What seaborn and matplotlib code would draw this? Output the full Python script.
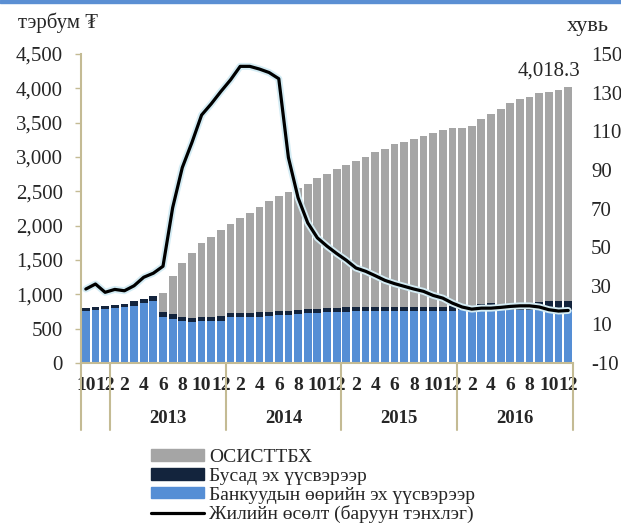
import numpy as np
import pandas as pd
import matplotlib
matplotlib.use("Agg")
import matplotlib.pyplot as plt
import matplotlib.patheffects as pe
from matplotlib.patches import Patch, Rectangle
from matplotlib.lines import Line2D
from matplotlib.ticker import FuncFormatter, MultipleLocator, FixedLocator
import seaborn as sns

# ---------------- data ----------------
bank_own = [759, 770, 789, 799, 813, 832, 871, 905, 672, 639, 605, 595, 605, 605, 610,
            663, 664, 664, 673, 687, 697, 702, 711, 721, 730, 738, 745, 750, 753, 755,
            757, 758, 759, 760, 760, 761, 762, 763, 764, 765, 766, 766, 767, 767, 768,
            768, 768, 769, 769, 770, 770]
other_src = [40, 48, 43, 48, 53, 68, 68, 72, 73, 72, 58, 58, 63, 63, 77,
             68, 67, 67, 63, 55, 55, 58, 59, 59, 60, 62, 63, 62, 62, 61,
             60, 60, 59, 59, 60, 59, 59, 59, 59, 59, 62, 100, 100, 99, 98,
             98, 100, 126, 128, 128, 128]
osis = [0, 0, 0, 0, 0, 0, 0, 0, 281, 557, 797, 952, 1079, 1164, 1246,
        1287, 1384, 1459, 1534, 1618, 1682, 1725, 1774, 1832, 1905, 1954, 2023, 2077, 2128, 2190,
        2257, 2299, 2367, 2404, 2437, 2486, 2533, 2576, 2599, 2598, 2618, 2687, 2753, 2827, 2919,
        2972, 3013, 3030, 3043, 3071, 3120.3]
growth = [28.3, 30.9, 26.6, 28.1, 27.4, 30.0, 34.4, 36.5, 40.1, 70.4, 91.2, 104.2, 118.4, 124.2, 130.6,
          136.6, 143.6, 143.6, 142.2, 140.4, 137.2, 96.4, 75.6, 62.6, 54.8, 50.5, 46.7, 43.2, 39.2, 37.5,
          35.2, 32.8, 31.1, 29.7, 28.3, 27.1, 25.0, 23.6, 21.0, 19.0, 17.9, 18.4, 18.4, 18.8, 19.3,
          19.6, 19.6, 19.0, 17.6, 16.9, 17.2]
month_labels = ["10", "12", "2", "4", "6", "8", "10", "12", "2", "4", "6", "8", "10",
                "12", "2", "4", "6", "8", "10", "12", "2", "4", "6", "8", "10", "12"]
years = ["2013", "2014", "2015", "2016"]
year_first_bar = [3, 15, 27, 39]
year_last_bar = [14, 26, 38, 50]
right_ticks = [-10, 10, 30, 50, 70, 90, 110, 130, 150]
last_label = "4,018.3"

series_names = ["ОСИСТТБХ", "Бусад эх үүсвэрээр", "Банкуудын өөрийн эх үүсвэрээр",
                "Жилийн өсөлт (баруун тэнхлэг)"]

# ---------------- style ----------------
c_gray = "#a5a5a5"
c_dark = "#13243d"
c_blue = "#558ed5"
c_spine = "#c4bb94"

sns.set_theme(style="white")
serif = ["Liberation Serif", "DejaVu Serif"]
plt.rcParams["font.family"] = serif
plt.rcParams["axes.unicode_minus"] = False

n = len(bank_own)
idx = np.arange(n)
df = pd.DataFrame({
    "i": idx,
    "bank": bank_own,
    "bank_other": np.array(bank_own) + np.array(other_src),
    "total": np.array(bank_own) + np.array(other_src) + np.array(osis),
    "growth": growth,
})

fig = plt.figure(figsize=(6.21, 5.24), dpi=100)
W, H = 621, 524
ax = fig.add_axes([81 / W, 1 - 363 / H, (573 - 81) / W, (363 - 54) / H])

sns.barplot(data=df, x="i", y="total", color=c_gray, saturation=1, width=0.8, ax=ax)
sns.barplot(data=df, x="i", y="bank_other", color=c_dark, saturation=1, width=0.8, ax=ax)
sns.barplot(data=df, x="i", y="bank", color=c_blue, saturation=1, width=0.8, ax=ax)
for p in ax.patches:
    p.set_linewidth(0)

ax.set_xlim(-0.5, n - 0.5)
ax.set_ylim(0, 4500)
ax.yaxis.set_major_locator(MultipleLocator(500))
ax.yaxis.set_major_formatter(FuncFormatter(lambda v, _: f"{int(v):,}"))
ax.set_xlabel("")
ax.set_ylabel("")
ax.set_xticks(idx[::2])
ax.set_xticklabels(month_labels, fontsize=14, fontweight="bold")
ax.tick_params(axis="x", length=0, pad=10)
ax.tick_params(axis="y", labelsize=15, length=4, width=1, color=c_spine, pad=9, left=True)
for s in ["top", "right"]:
    ax.spines[s].set_visible(False)
for s in ["left", "bottom"]:
    ax.spines[s].set_color(c_spine)
    ax.spines[s].set_linewidth(1.5)

# Category group separators and year labels
tr = ax.get_xaxis_transform()
for xb in [-0.5, 2.5, 14.5, 26.5, 38.5, 50.5]:
    ax.plot([xb, xb], [0, -0.218], transform=tr, color=c_spine, lw=1.5, clip_on=False)
for y, a, b in zip(years, year_first_bar, year_last_bar):
    ax.text((a + b) / 2, -0.178, y, transform=tr, ha="center", va="center",
            fontsize=13.5, fontweight="bold")

# Last value label
ax.annotate(last_label, xy=(n - 1, df["total"].iloc[-1]), xytext=(-14, 5),
            textcoords="offset points", ha="center", va="bottom", fontsize=15)

# Growth line on right axis
ax2 = ax.twinx()
sns.lineplot(data=df, x="i", y="growth", color="black", lw=2.3, ax=ax2,
             path_effects=[pe.Stroke(linewidth=5, foreground="#d4ecf4"), pe.Normal()])
ax2.set_ylim(-10, 150)
ax2.yaxis.set_major_locator(FixedLocator(right_ticks))
ax2.set_ylabel("")
ax2.set_xlim(-0.5, n - 0.5)
ax2.tick_params(axis="y", labelsize=15, length=0, pad=13)
for s in ax2.spines.values():
    s.set_visible(False)

# Axis unit titles
fig.text(18 / W, 1 - 23 / H, "тэрбум ₮", fontsize=15, ha="left", va="center", family=serif)
fig.text(567 / W, 1 - 27 / H, "хувь", fontsize=16, ha="left", va="center", family=serif)

# Top blue border
fig.patches.append(Rectangle((0, 1 - 3 / H), 1, 3 / H, transform=fig.transFigure,
                             color="#5b8fd3", zorder=10))

# Legend
handles = [Patch(color=c_gray), Patch(color=c_dark), Patch(color=c_blue),
           Line2D([0], [0], color="black", lw=2.3)]
fig.legend(handles, series_names, loc="upper left", bbox_to_anchor=(151 / W, 1 - 449 / H),
           frameon=False, fontsize=14, handlelength=2.7, handleheight=0.55,
           handletextpad=0.3, labelspacing=0.09, borderaxespad=0, borderpad=0)

fig.savefig("out.png", dpi=100)
